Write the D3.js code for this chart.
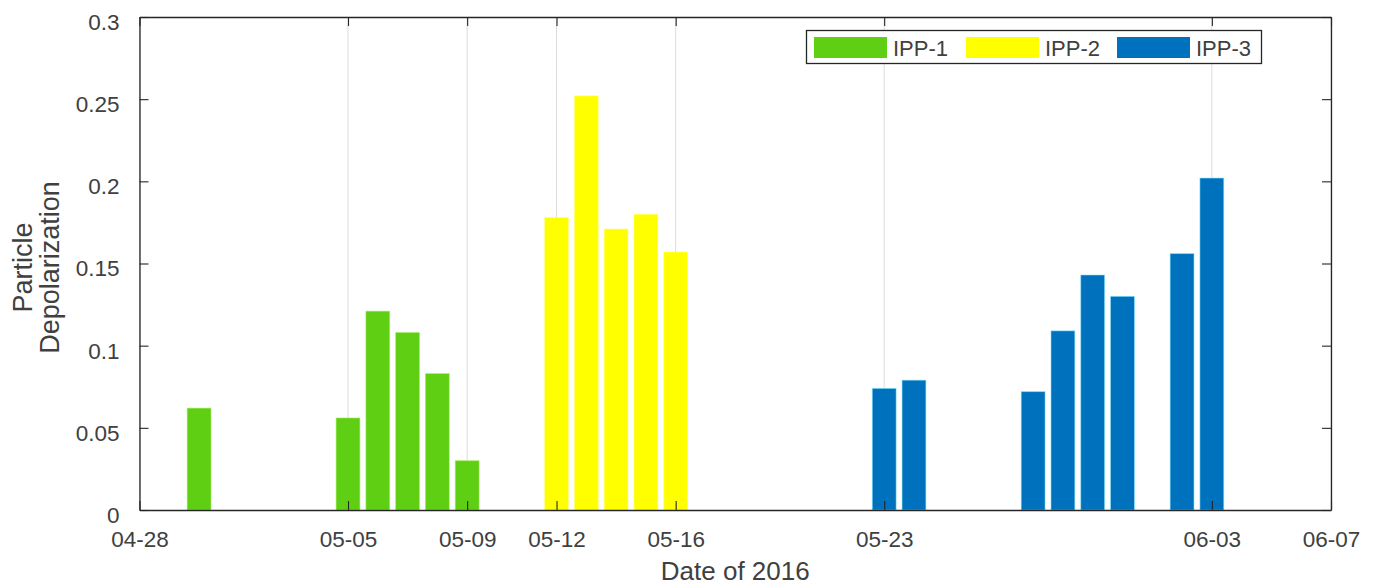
<!DOCTYPE html>
<html>
<head>
<meta charset="utf-8">
<script src="https://cdn.jsdelivr.net/npm/d3@7/dist/d3.min.js"></script>
<style>
  html, body { margin: 0; padding: 0; background: #fff; }
  svg { display: block; font-family: "Liberation Sans", Arial, sans-serif; }
</style>
</head>
<body>
<svg id="chart" width="1377" height="586"></svg>
<script>
// Particle depolarization per day, grouped by period
const ipp1Dates = ["2016-04-30", "2016-05-05", "2016-05-06", "2016-05-07", "2016-05-08", "2016-05-09"];
const ipp1Values = [0.062, 0.056, 0.121, 0.108, 0.083, 0.030];

const ipp2Dates = ["2016-05-12", "2016-05-13", "2016-05-14", "2016-05-15", "2016-05-16"];
const ipp2Values = [0.178, 0.252, 0.171, 0.180, 0.157];

const ipp3Dates = ["2016-05-23", "2016-05-24", "2016-05-28", "2016-05-29", "2016-05-30", "2016-05-31", "2016-06-02", "2016-06-03"];
const ipp3Values = [0.074, 0.079, 0.072, 0.109, 0.143, 0.130, 0.156, 0.202];

const seriesNames = ["IPP-1", "IPP-2", "IPP-3"];
const seriesColors = ["#5fcf14", "#ffff00", "#0072bd"];
const seriesEdges = ["#a8f060", "#ffff80", "#7fe0ff"];

const xDomain = ["2016-04-28", "2016-06-07"];
const xTickDates = ["2016-04-28", "2016-05-05", "2016-05-09", "2016-05-12", "2016-05-16", "2016-05-23", "2016-06-03", "2016-06-07"];
const yTicks = [0, 0.05, 0.1, 0.15, 0.2, 0.25, 0.3];

(function () {
  const parse = d3.utcParse("%Y-%m-%d");
  const fmt = d3.utcFormat("%m-%d");

  const svg = d3.select("#chart");
  const plotL = 139.5, plotR = 1331, plotT = 17, plotB = 510;
  const axisColor = "#262626";
  const textColor = "#404040";
  const tickLen = 9;

  const x = d3.scaleUtc().domain(xDomain.map(parse)).range([plotL, plotR]);
  const y = d3.scaleLinear().domain([0, 0.3]).range([plotB, plotT]);

  // vertical grid at the date ticks
  svg.append("g")
    .selectAll("line")
    .data(xTickDates.map(parse))
    .join("line")
    .attr("x1", d => x(d)).attr("x2", d => x(d))
    .attr("y1", plotT).attr("y2", plotB)
    .attr("stroke", "#dcdcdc").attr("stroke-width", 1);

  // bars, 0.8 of a day wide, centred on each date
  const dayWidth = x(parse("2016-05-02")) - x(parse("2016-05-01"));
  const barW = dayWidth * 0.8;
  const groups = [
    { dates: ipp1Dates, values: ipp1Values },
    { dates: ipp2Dates, values: ipp2Values },
    { dates: ipp3Dates, values: ipp3Values }
  ];
  groups.forEach((g, i) => {
    const rows = g.dates.map((d, k) => ({ date: parse(d), value: g.values[k] }));
    svg.append("g")
      .selectAll("rect")
      .data(rows)
      .join("rect")
      .attr("x", d => x(d.date) - barW / 2)
      .attr("width", barW)
      .attr("y", d => y(d.value))
      .attr("height", d => y(0) - y(d.value))
      .attr("fill", seriesColors[i])
      .attr("stroke", seriesEdges[i])
      .attr("stroke-width", 0.8)
      .attr("stroke-opacity", 0.7);
  });

  // axes (ticks drawn inside the box, mirrored on top and right)
  const xAxisBottom = d3.axisBottom(x)
    .tickValues(xTickDates.map(parse))
    .tickFormat(fmt)
    .tickSizeInner(-tickLen).tickSizeOuter(0).tickPadding(21);
  const gxb = svg.append("g").attr("transform", `translate(0,${plotB})`).call(xAxisBottom);

  const xAxisTop = d3.axisTop(x)
    .tickValues(xTickDates.map(parse))
    .tickFormat("")
    .tickSizeInner(-tickLen).tickSizeOuter(0);
  const gxt = svg.append("g").attr("transform", `translate(0,${plotT})`).call(xAxisTop);

  const yAxisLeft = d3.axisLeft(y)
    .tickValues(yTicks)
    .tickFormat(d3.format("~g"))
    .tickSizeInner(-tickLen).tickSizeOuter(0).tickPadding(20);
  const gyl = svg.append("g").attr("transform", `translate(${plotL},0)`).call(yAxisLeft);

  const yAxisRight = d3.axisRight(y)
    .tickValues(yTicks)
    .tickFormat("")
    .tickSizeInner(-tickLen).tickSizeOuter(0);
  const gyr = svg.append("g").attr("transform", `translate(${plotR},0)`).call(yAxisRight);

  [gxb, gxt, gyl, gyr].forEach(g => {
    g.select(".domain").attr("stroke", axisColor).attr("stroke-width", 1.3);
    g.selectAll(".tick line").attr("stroke", axisColor).attr("stroke-width", 1.1);
    g.selectAll(".tick text").attr("fill", textColor).attr("font-size", 22.5)
      .attr("font-family", "'Liberation Sans', Arial, sans-serif");
  });
  gyl.selectAll(".tick text").attr("dy", "0.55em");
  gxb.selectAll(".tick text").attr("dy", "0.71em");

  // axis titles
  svg.append("text")
    .attr("x", (plotL + plotR) / 2).attr("y", 580)
    .attr("text-anchor", "middle")
    .attr("font-size", 26).attr("fill", textColor)
    .text("Date of 2016");

  const yt = svg.append("text")
    .attr("transform", `translate(0,${(plotT + plotB) / 2 + 4}) rotate(-90)`)
    .attr("text-anchor", "middle")
    .attr("font-size", 27).attr("fill", textColor);
  yt.append("tspan").attr("x", 0).attr("y", 32).text("Particle");
  yt.append("tspan").attr("x", 0).attr("y", 59).text("Depolarization");

  // legend
  const lg = svg.append("g");
  lg.append("rect")
    .attr("x", 806.5).attr("y", 30.5).attr("width", 455).attr("height", 33)
    .attr("fill", "#fff").attr("stroke", axisColor).attr("stroke-width", 1.3);
  const legendX = [814, 966, 1117];
  seriesNames.forEach((name, i) => {
    lg.append("rect")
      .attr("x", legendX[i]).attr("y", 37).attr("width", 73).attr("height", 21)
      .attr("fill", seriesColors[i]);
    lg.append("text")
      .attr("x", legendX[i] + 79).attr("y", 56)
      .attr("font-size", 22).attr("fill", textColor)
      .text(name);
  });
})();
</script>
</body>
</html>
